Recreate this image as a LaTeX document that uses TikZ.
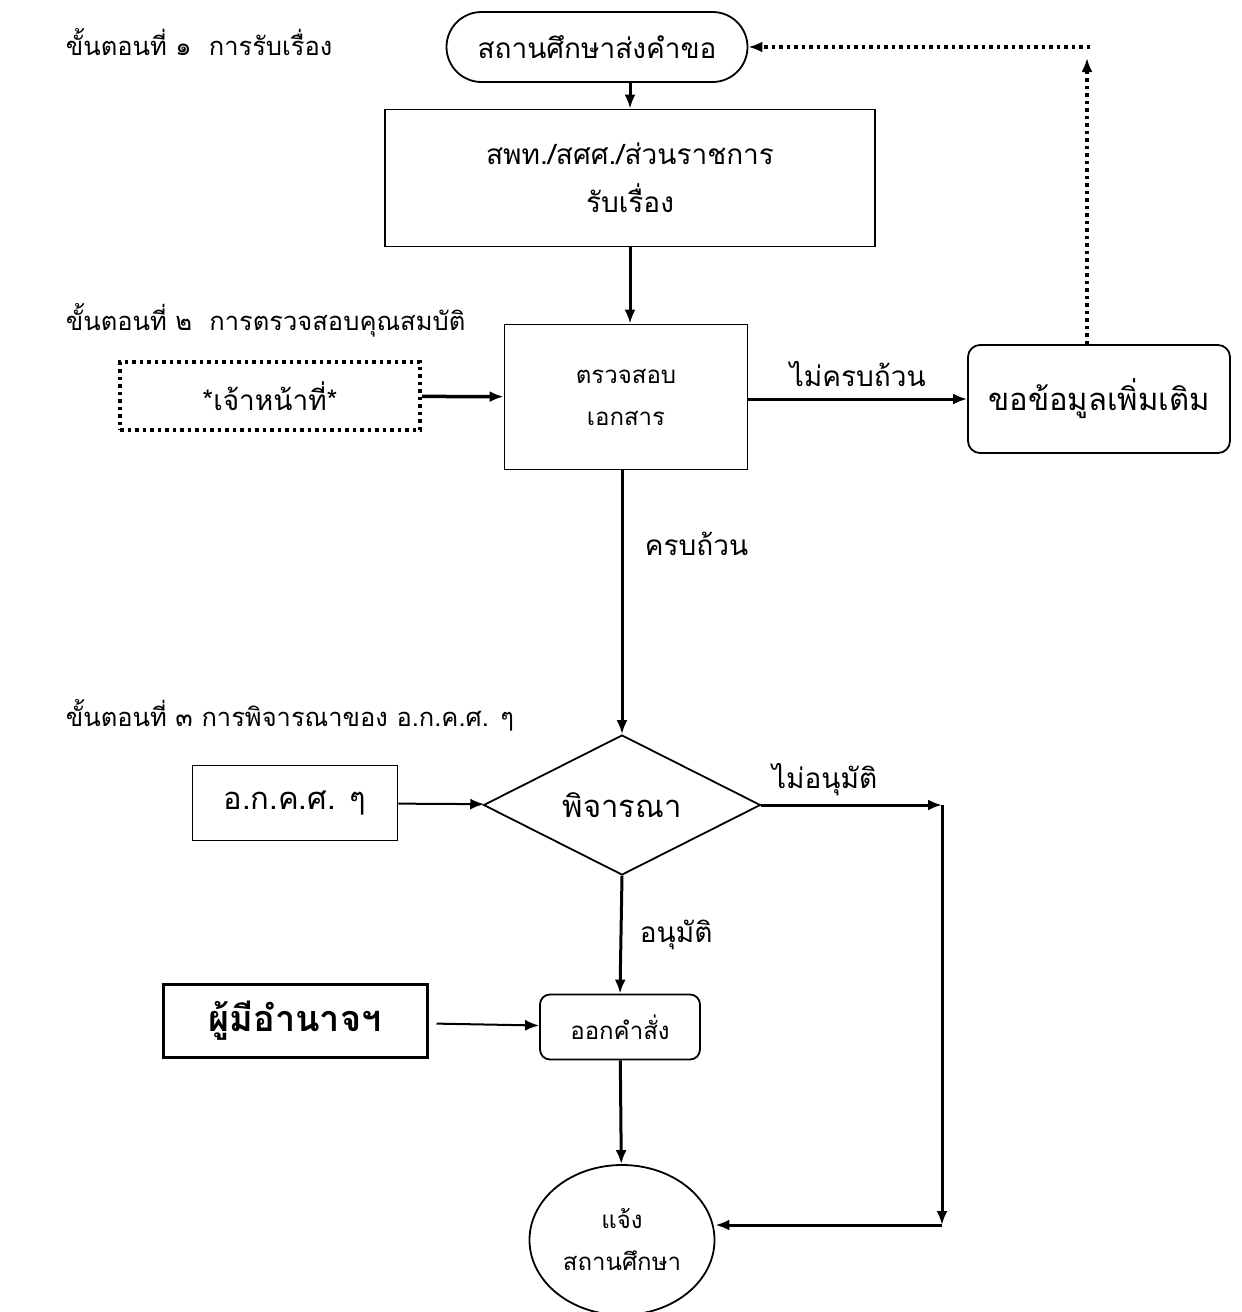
\documentclass[tikz,border=0pt]{standalone}
\usepackage{fontspec}
\newfontfamily\thaifont[Script=Thai]{Loma}
\usetikzlibrary{arrows.meta, shapes.geometric}

\begin{document}
\begin{tikzpicture}[x=1pt,y=-1pt,>={Latex[length=14pt,width=11pt]},line width=1.8pt,
    font=\thaifont\fontsize{28}{48}\selectfont]
    \tikzstyle{box}=[draw, rectangle, inner sep=0pt, align=center]
    \tikzstyle{term}=[box, rounded corners=35pt]
    \tikzstyle{dotbox}=[box, line width=3.5pt, dash pattern=on 3.5pt off 4pt]
    \tikzstyle{decision}=[diamond, draw, inner sep=0pt, aspect=2]
    \tikzstyle{small text}=[font=\thaifont\fontsize{24}{42}\selectfont]
    \tikzstyle{big text}=[font=\thaifont\fontsize{31}{48}\selectfont]
    \tikzstyle{flow}=[->, line width=3pt]
    \tikzstyle{dotflow}=[->, line width=3.5pt, dash pattern=on 3.5pt off 4pt]
    \tikzstyle{step title}=[anchor=west, inner sep=0pt, font=\thaifont\fontsize{25.5}{40}\selectfont]

    \useasboundingbox (0,0) rectangle (1242,1312);

    % ขั้นตอนที่ ๑
    \node[step title] (t-1) at (65,42) {ขั้นตอนที่ ๑\ \ การรับเรื่อง};
    \node[term, minimum width=301pt, minimum height=70pt] (req) at (597,47) {สถานศึกษาส่งคำขอ};
    \node[box, minimum width=490pt, minimum height=137pt] (recv) at (630,178) {สพท./สศศ./ส่วนราชการ\\รับเรื่อง};

    % ขั้นตอนที่ ๒
    \node[step title] (t-2) at (65,320) {ขั้นตอนที่ ๒\ \ การตรวจสอบคุณสมบัติ};
    \node[dotbox, minimum width=300pt, minimum height=68pt] (staff) at (270,396) {*เจ้าหน้าที่*};
    \node[box, small text, minimum width=243pt, minimum height=145pt] (chk) at (626,397) {ตรวจสอบ\\เอกสาร};
    \node[box, big text, rounded corners=12pt, minimum width=262pt, minimum height=108pt] (more) at (1099,399) {ขอข้อมูลเพิ่มเติม};
    \coordinate (up) at (1087,58);
    \coordinate (corner) at (1090,47);

    % ขั้นตอนที่ ๓
    \node[step title] (t-3) at (65,715) {ขั้นตอนที่ ๓ การพิจารณาของ อ.ก.ค.ศ. ๆ};
    \node[decision, big text, minimum width=277pt, minimum height=140pt] (cons) at (622,805) {พิจารณา};
    \node[box, big text, minimum width=205pt, minimum height=75pt] (okks) at (295,803) {อ.ก.ค.ศ. ๆ};
    \node[box, line width=3pt, font=\thaifont\bfseries\fontsize{36}{48}\selectfont, minimum width=264pt, minimum height=73pt] (auth) at (295,1021) {ผู้มีอำนาจฯ};
    \node[box, small text, rounded corners=10pt, minimum width=160pt, minimum height=65pt] (order) at (620,1027) {ออกคำสั่ง};
    \node[ellipse, draw, small text, align=center, inner sep=0pt, minimum width=185pt, minimum height=150pt] (notify) at (622,1240) {แจ้ง\\สถานศึกษา};
    \coordinate (rt) at (942,805);
    \coordinate (rb) at (942,1225);

    \path[flow] (req.south -| recv.north) edge (recv.north);
    \path[flow] (recv.south) edge (recv.south |- chk.north);
    \path[flow, line width=3.5pt] (staff) edge (chk);
    \draw[flow] (chk.east |- more.west) -- node[above=8pt] {ไม่ครบถ้วน} (more.west);
    \draw[dotflow] (more.north -| up) -- (up);
    \draw[dotflow] (corner) -- (req.east);

    \draw[flow] (chk.south -| cons.north) -- node[right=18pt, pos=0.28] {ครบถ้วน} (cons.north);
    \path[->, line width=2pt] (okks) edge (cons);
    \draw[flow] (cons.east) -- node[above=4pt, pos=0.35] {ไม่อนุมัติ} (rt);
    \draw[flow] (rt) -- (rb);
    \draw[flow] (rb) -- (rb -| notify.east);
    \draw[flow] (cons.south) -- node[right=14pt] {อนุมัติ} (order.north);
    \path[->, line width=2pt, shorten <=8pt] (auth) edge (order);
    \path[flow] (order) edge (notify);
\end{tikzpicture}
\end{document}
